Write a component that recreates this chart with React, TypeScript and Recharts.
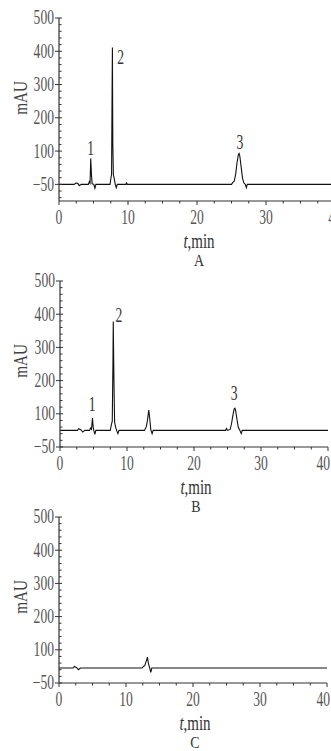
import React from 'react';
import { LineChart, Line, XAxis, YAxis, ReferenceDot } from 'recharts';

const FONT = '"Liberation Serif", "DejaVu Serif", "Times New Roman", serif';
const AXIS = '#333';
const LABEL = '#555';
const TRACE = '#111';
const PAGE_W = 331;

// ---- shared axis ticks ----
const xTickValues = [0, 2.5, 5, 7.5, 10, 12.5, 15, 17.5, 20, 22.5, 25, 27.5, 30, 32.5, 35, 37.5, 40];
const xMajorValues = [0, 10, 20, 30, 40];
const xMajorLabels = ['0', '10', '20', '30', '40'];

const yTickValuesA = [-40, -20, 0, 20, 40, 60, 80, 100, 120, 140, 160, 180, 200, 220, 240, 260, 280, 300, 320, 340, 360, 380, 400, 420, 440, 460, 480, 500];
const yTickValuesBC = [0, 20, 40, 60, 80, 100, 120, 140, 160, 180, 200, 220, 240, 260, 280, 300, 320, 340, 360, 380, 400, 420, 440, 460, 480, 500];
const yMajorValues = [0, 100, 200, 300, 400, 500];
const yMajorLabels = ['\u221250', '100', '200', '300', '400', '500'];

// ---- panel A ----
const timeA = [0, 2.2, 2.45, 2.7, 2.95, 3.2, 4.25, 4.4, 4.5, 4.6, 4.7, 4.8, 5.05, 5.2, 5.35, 7.4, 7.55, 7.62, 7.7, 7.74, 7.8, 7.88, 8.0, 8.15, 8.3, 8.45, 9.7, 9.8, 9.9, 25.0, 25.2, 25.4, 25.6, 25.8, 26.0, 26.1, 26.2, 26.4, 26.6, 26.8, 27.0, 27.15, 27.3, 40];
const signalA = [0, 0, 4, 3, -4, 0, 0, 8, 4, 78, 30, 2, 0, -12, 0, 0, 22, 30, 300, 411, 120, 28, 18, 0, -10, 0, 0, 4, 0, 0, 6, 10, 30, 65, 90, 93, 86, 52, 18, 4, 0, -10, 0, 0];
const peakTimesA = [4.6, 8.94, 26.2];
const peakLabelLevelsA = [108, 380, 125];
const peakNamesA = ['1', '2', '3'];

// ---- panel B ----
const timeB = [0, 2.6, 2.8, 3.1, 3.4, 3.7, 4.4, 4.55, 4.7, 4.85, 4.95, 5.05, 5.2, 5.35, 7.5, 7.7, 7.8, 7.9, 7.95, 8.05, 8.15, 8.3, 8.45, 8.65, 8.8, 12.6, 12.75, 12.9, 13.05, 13.25, 13.4, 13.55, 13.75, 13.9, 24.7, 24.85, 25.0, 25.4, 25.6, 25.8, 26.0, 26.1, 26.2, 26.4, 26.6, 26.85, 27.05, 27.2, 40];
const signalB = [50, 50, 55, 52, 45, 50, 50, 57, 53, 87, 60, 50, 38, 50, 50, 70, 78, 250, 378, 200, 75, 60, 50, 40, 50, 50, 56, 62, 80, 111, 85, 52, 40, 50, 50, 56, 50, 53, 70, 95, 115, 117, 112, 85, 60, 50, 40, 50, 50];
const peakTimesB = [4.8, 8.8, 26.0];
const peakLabelLevelsB = [128, 396, 160];
const peakNamesB = ['1', '2', '3'];

// ---- panel C ----
const timeC = [0, 2.1, 2.3, 2.6, 2.9, 3.2, 12.4, 12.6, 12.8, 12.95, 13.1, 13.2, 13.35, 13.5, 13.7, 13.85, 40];
const signalC = [45, 45, 50, 47, 40, 45, 45, 50, 52, 62, 70, 78, 58, 48, 32, 45, 45];

const toRows = (t: number[], v: number[]) => t.map((tt, i) => ({ t: tt, v: v[i] }));

function CondText(props: any) {
  const { x, y, children, size = 20, sx = 0.68, anchor = 'middle', fill = LABEL, rotate = 0 } = props;
  return (
    <text
      transform={`translate(${x},${y}) rotate(${rotate}) scale(${sx},1)`}
      textAnchor={anchor}
      dominantBaseline="central"
      fontFamily={FONT}
      fontSize={size}
      fill={fill}
    >
      {children}
    </text>
  );
}

const YTick = (props: any) => {
  const { x, y, payload } = props;
  const v = payload.value;
  const idx = yMajorValues.indexOf(v);
  if (idx >= 0) {
    return (
      <g>
        <line x1={x - 4} x2={x + 3} y1={y} y2={y} stroke={AXIS} strokeWidth={1} />
        <CondText x={x - 5} y={y} anchor="end">{yMajorLabels[idx]}</CondText>
      </g>
    );
  }
  return <line x1={x} x2={x + 2.5} y1={y} y2={y} stroke={AXIS} strokeWidth={1} />;
};

const XTick = (props: any) => {
  const { x, y, payload } = props;
  const v = payload.value;
  const idx = xMajorValues.indexOf(v);
  if (idx >= 0) {
    // a label whose tick is on the page but would spill past its edge is pulled back inside
    const spill = x <= PAGE_W && x + 7 > PAGE_W - 1;
    return (
      <g>
        <line x1={x} x2={x} y1={y} y2={y + 4} stroke={AXIS} strokeWidth={1} />
        {spill ? (
          <CondText x={PAGE_W - 1} y={y + 17} anchor="end">{xMajorLabels[idx]}</CondText>
        ) : (
          <CondText x={x} y={y + 17}>{xMajorLabels[idx]}</CondText>
        )}
      </g>
    );
  }
  return <line x1={x} x2={x} y1={y} y2={y + 2.5} stroke={AXIS} strokeWidth={1} />;
};

const makeXLabel = (letter: string) => (props: any) => {
  const vb = props.viewBox || {};
  const cx = vb.x + vb.width / 2 + 2;
  const ay = vb.y;
  return (
    <g>
      <text
        transform={`translate(${cx},${ay + 40}) scale(0.75,1)`}
        textAnchor="middle"
        dominantBaseline="central"
        fontFamily={FONT}
        fontSize={20}
        fill="#333"
      >
        <tspan fontStyle="italic">t</tspan>
        <tspan>,min</tspan>
      </text>
      <CondText x={cx} y={ay + 59} size={17} sx={0.82} fill="#333">{letter}</CondText>
    </g>
  );
};

const yLabel = (props: any) => {
  const vb = props.viewBox || {};
  return (
    <CondText x={(vb.x || 0) + 21} y={vb.y + 80} size={19} sx={0.8} rotate={-90} fill="#444">mAU</CondText>
  );
};

function Panel(props: any) {
  const { top, width, height, margin, yWidth, yDomain, yTicks, rows, peaks, letter } = props;
  return (
    <div style={{ position: 'absolute', left: 0, top }}>
      <LineChart width={width} height={height} data={rows} margin={margin}>
        <XAxis
          type="number"
          dataKey="t"
          domain={[0, 40]}
          ticks={xTickValues}
          interval={0}
          tickSize={0}
          tickMargin={0}
          tickLine={false}
          height={60}
          axisLine={{ stroke: AXIS, strokeWidth: 1.2 }}
          tick={XTick}
          label={makeXLabel(letter)}
          allowDataOverflow
        />
        <YAxis
          type="number"
          domain={yDomain}
          ticks={yTicks}
          interval={0}
          tickSize={0}
          tickMargin={0}
          tickLine={false}
          width={yWidth}
          axisLine={{ stroke: AXIS, strokeWidth: 1.2 }}
          tick={YTick}
          label={yLabel}
          allowDataOverflow
        />
        <Line
          type="linear"
          dataKey="v"
          stroke={TRACE}
          strokeWidth={1.1}
          dot={false}
          activeDot={false}
          isAnimationActive={false}
        />
        {peaks &&
          peaks.times.map((pt: number, i: number) => (
            <ReferenceDot
              key={i}
              x={pt}
              y={peaks.levels[i]}
              r={0}
              ifOverflow="visible"
              shape={(p: any) => (
                <CondText x={p.cx} y={p.cy} fill="#333">{peaks.names[i]}</CondText>
              )}
            />
          ))}
      </LineChart>
    </div>
  );
}

export default function App() {
  return (
    <div
      style={{
        position: 'fixed',
        left: 0,
        top: 0,
        width: 331,
        height: 751,
        overflow: 'hidden',
        background: '#fff',
      }}
    >
      <Panel
        top={0}
        width={345}
        height={270}
        margin={{ top: 18, right: 10, bottom: 9, left: 0 }}
        yWidth={59}
        yDomain={[-50, 500]}
        yTicks={yTickValuesA}
        rows={toRows(timeA, signalA)}
        peaks={{ times: peakTimesA, levels: peakLabelLevelsA, names: peakNamesA }}
        letter="A"
      />
      <Panel
        top={270}
        width={331}
        height={252}
        margin={{ top: 11, right: 3, bottom: 15, left: 0 }}
        yWidth={60}
        yDomain={[0, 500]}
        yTicks={yTickValuesBC}
        rows={toRows(timeB, signalB)}
        peaks={{ times: peakTimesB, levels: peakLabelLevelsB, names: peakNamesB }}
        letter="B"
      />
      <Panel
        top={498}
        width={331}
        height={253}
        margin={{ top: 19, right: 4, bottom: 8, left: 0 }}
        yWidth={59}
        yDomain={[0, 500]}
        yTicks={yTickValuesBC}
        rows={toRows(timeC, signalC)}
        peaks={null}
        letter="C"
      />
    </div>
  );
}
